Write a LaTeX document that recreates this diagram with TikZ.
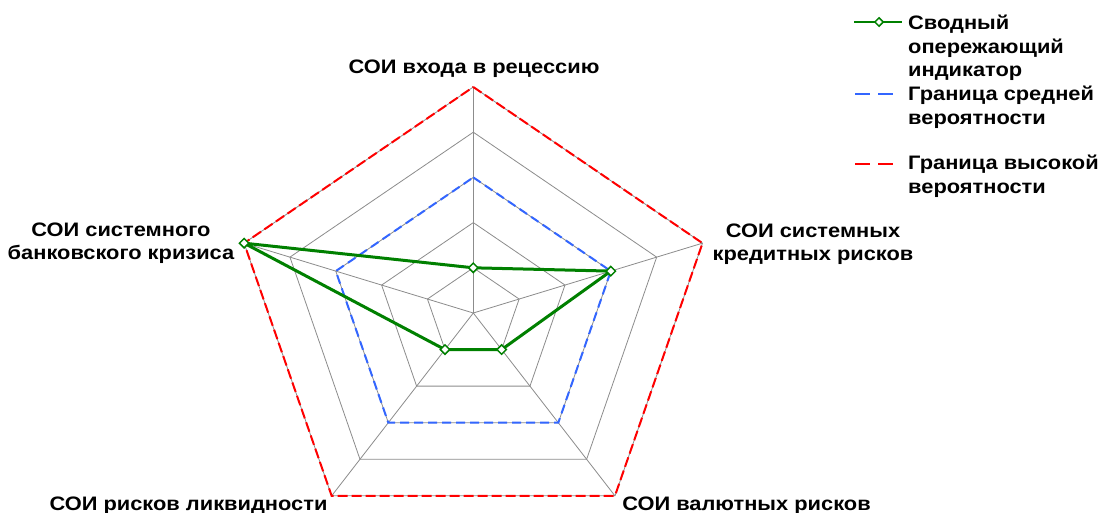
\documentclass[tikz,border=0pt]{standalone}
\usepackage{fontspec}
\setmainfont{Liberation Sans}
\newfontfamily\lblfont[FakeStretch=1.12]{Liberation Sans}
\usetikzlibrary{shapes.geometric}
\definecolor{gridgray}{RGB}{140,140,140}
\definecolor{medblue}{RGB}{51,102,255}
\definecolor{highred}{RGB}{255,0,0}
\definecolor{idxgreen}{RGB}{0,128,0}
\begin{document}
\begin{tikzpicture}[x=1pt,y=-1pt,
  gridline/.style={draw=gridgray,line width=0.8pt},
  medline/.style={draw=medblue,line width=2pt,dash pattern=on 9pt off 5pt},
  highline/.style={draw=highred,line width=2pt,dash pattern=on 10pt off 4pt},
  idxline/.style={draw=idxgreen,line width=3pt,line join=round},
  idxmark/.style={diamond,draw=idxgreen,fill=white,line width=1.5pt,inner sep=0pt,minimum width=10pt,minimum height=10pt},
  axlabel/.style={font=\lblfont\bfseries\fontsize{19.5}{23}\selectfont,align=center,anchor=base,inner sep=0pt},
  legtext/.style={font=\lblfont\bfseries\fontsize{19.5}{23.6}\selectfont,align=left,anchor=base west,inner sep=0pt}]
\useasboundingbox (0,0) rectangle (1100,512);
\fill[white] (0,0) rectangle (1100,512);
\begin{scope}[shift={(473.3,313)},x=48.2pt,y=45.2pt]
  \coordinate (c) at (0,0);
  \foreach \k in {1,...,5}{
    \pgfmathsetmacro{\ang}{90-72*(\k-1)}
    \coordinate (v\k) at (\ang:5);
  }
  % grid rings
  \foreach \r in {1,...,5}{
    \draw[gridline] (90:\r) -- (18:\r) -- (-54:\r) -- (-126:\r) -- (162:\r) -- cycle;
  }
  \foreach \k in {1,...,5}{ \draw[gridline] (c) -- (v\k); }
  % boundaries
  \draw[medline] (90:3) -- (18:3) -- (-54:3) -- (-126:3) -- (162:3) -- cycle;
  \draw[highline] (v1) -- (v2) -- (v3) -- (v4) -- (v5) -- cycle;
  % index
  \coordinate (p1) at (90:1);
  \coordinate (p2) at (18:3);
  \coordinate (p3) at (-54:1);
  \coordinate (p4) at (-126:1);
  \coordinate (p5) at (162:5);
  \draw[idxline] (p1) -- (p2) -- (p3) -- (p4) -- (p5) -- cycle;
  \foreach \k in {1,...,5}{ \node[idxmark] (d\k) at (p\k) {}; }
\end{scope}
% axis labels (anchor = baseline of last line)
\node[axlabel] (l1) at (474,73) {СОИ входа в рецессию};
\node[axlabel] (l2) at (813,260) {СОИ системных\\кредитных рисков};
\node[axlabel] (l3) at (746.5,510) {СОИ валютных рисков};
\node[axlabel] (l4) at (188.5,510) {СОИ рисков ликвидности};
\node[axlabel] (l5) at (121,259) {СОИ системного\\банковского кризиса};
% legend
\coordinate (g1) at (854,22);
\coordinate (g2) at (902,22);
\draw[idxline,line width=2.6pt] (g1) -- (g2);
\node[idxmark,minimum width=9pt,minimum height=9pt] (gm) at (879,22) {};
\node[legtext] (t1) at (908,76.7) {Сводный\\опережающий\\индикатор};
\coordinate (b1) at (855,94); \coordinate (b2) at (893,94);
\draw[medline,dash pattern=on 15pt off 8pt] (b1) -- (b2);
\node[legtext] (t2) at (908,124) {Граница средней\\вероятности};
\coordinate (r1) at (855,164); \coordinate (r2) at (893,164);
\draw[highline,dash pattern=on 15pt off 8pt] (r1) -- (r2);
\node[legtext] (t3) at (908,193) {Граница высокой\\вероятности};
\end{tikzpicture}
\end{document}
